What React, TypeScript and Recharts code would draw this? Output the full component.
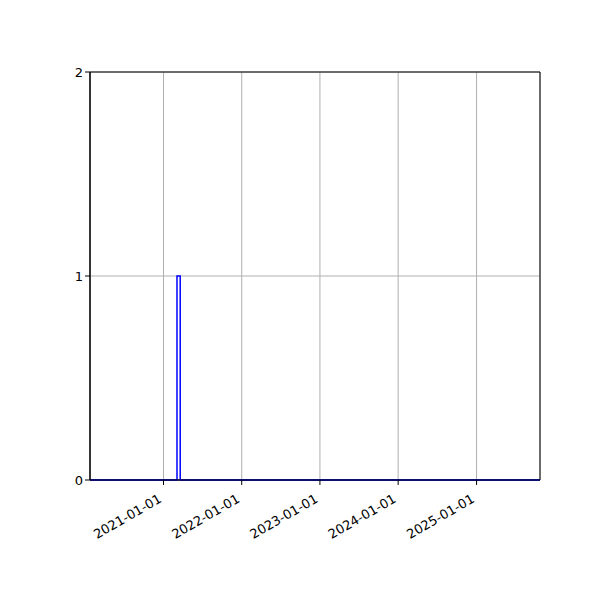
import React from 'react';
import {
  LineChart,
  Line,
  XAxis,
  YAxis,
  CartesianGrid,
  ReferenceArea,
} from 'recharts';

// step data (one short pulse in March 2021)
const dates = ['2020-01-24', '2021-03-05', '2021-03-20', '2025-10-24'];
const counts = [0, 1, 0, 0];

const xTickDates = ['2021-01-01', '2022-01-01', '2023-01-01', '2024-01-01', '2025-01-01'];
const yTicks = [0, 1, 2];

const toTime = (d: string) => Date.parse(d + 'T00:00:00Z');

const data = dates.map((d, i) => ({ t: toTime(d), v: counts[i] }));
const xTicks = xTickDates.map(toTime);
const xMin = data[0].t;
const xMax = data[data.length - 1].t;

const fmt = (t: number) => new Date(t).toISOString().slice(0, 10);

const font = 'DejaVu Sans, sans-serif';

function DateTick(props: any) {
  const { x, y, payload } = props;
  return (
    <g transform={`translate(${x - 6},${y + 6}) rotate(-30)`}>
      <text x={0} y={0} dy="0.75em" textAnchor="end" fontSize={13} fontFamily={font} fill="#000">
        {fmt(payload.value)}
      </text>
    </g>
  );
}

export default function App() {
  return (
    <div style={{ position: 'absolute', left: 0, top: 0, width: 600, height: 600, background: '#fff' }}>
      <LineChart
        width={600}
        height={600}
        data={data}
        margin={{ top: 72, right: 60, left: 50, bottom: 60 }}
      >
        <CartesianGrid stroke="#b0b0b0" strokeWidth={1} />
        <XAxis
          dataKey="t"
          type="number"
          scale="time"
          domain={[xMin, xMax]}
          ticks={xTicks}
          interval={0}
          tickFormatter={fmt}
          tick={<DateTick />}
          height={60}
          stroke="#000"
          tickSize={5}
          allowDataOverflow
        />
        <YAxis
          domain={[0, 2]}
          ticks={yTicks}
          interval={0}
          width={40}
          stroke="#000"
          tickSize={5}
          tick={{ fill: '#000', fontSize: 13, fontFamily: font }}
        />
        <ReferenceArea
          x1={xMin}
          x2={xMax}
          y1={0}
          y2={2}
          fill="none"
          stroke="#000"
          strokeWidth={1}
          ifOverflow="visible"
        />
        <Line
          type="stepAfter"
          dataKey="v"
          stroke="#0000ff"
          strokeWidth={1.5}
          dot={false}
          isAnimationActive={false}
        />
      </LineChart>
    </div>
  );
}
